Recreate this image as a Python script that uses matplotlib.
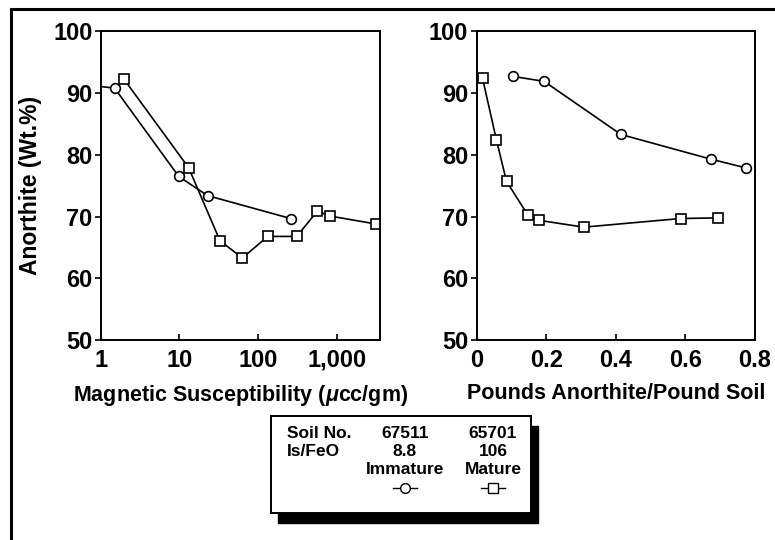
import numpy as np
import matplotlib.pyplot as plt
from matplotlib.patches import Rectangle
from matplotlib.lines import Line2D
from matplotlib.ticker import FuncFormatter

plt.rcParams['font.family'] = 'Liberation Sans'
plt.rcParams['font.weight'] = 'bold'
plt.rcParams['mathtext.fontset'] = 'custom'
plt.rcParams['mathtext.it'] = 'Liberation Sans:bold:italic'
fsize = 15.5

# immature soil 67511, circles
sus_imm = [0.7, 1.5, 9.8, 22.8, 258]
an_sus_imm = [91.3, 90.8, 76.5, 73.4, 69.7]
pds_imm = [0.105, 0.194, 0.415, 0.674, 0.774]
an_pds_imm = [92.7, 91.9, 83.3, 79.3, 77.9]

# mature soil 65701, squares
sus_mat = [1.96, 13.1, 32.7, 63, 132, 309, 564, 814, 3170]
an_sus_mat = [92.3, 77.9, 66.1, 63.3, 66.8, 66.8, 70.9, 70.1, 68.8]
pds_mat = [0.017, 0.057, 0.086, 0.148, 0.180, 0.308, 0.587, 0.693]
an_pds_mat = [92.4, 82.4, 75.7, 70.2, 69.4, 68.3, 69.7, 69.8]

legend_rows = [['Soil No.', '67511', '65701'],
               ['Is/FeO', '8.8', '106'],
               ['', 'Immature', 'Mature']]

fig = plt.figure(figsize=(7.75, 5.4), dpi=100)

ax1 = fig.add_axes([0.130, 0.370, 0.360, 0.572])
ax2 = fig.add_axes([0.615, 0.370, 0.359, 0.572])

mk = dict(color='k', linewidth=1.2, markersize=7, markerfacecolor='white',
          markeredgecolor='k', markeredgewidth=1.2)

ax1.plot(sus_imm, an_sus_imm, 'o-', **mk)
ax1.plot(sus_mat, an_sus_mat, 's-', **mk)
ax1.set_xscale('log')
ax1.set_xlim(1, 3500)
ax1.set_xticks([1, 10, 100, 1000])
ax1.xaxis.set_major_formatter(FuncFormatter(lambda v, p: f'{v:,.0f}'))
ax1.minorticks_off()
ax1.set_xlabel('Magnetic Susceptibility ($\\mathit{\\mu}$cc/gm)', fontsize=fsize, fontweight='bold', labelpad=8)
ax1.set_ylabel('Anorthite (Wt.%)', fontsize=16.5, fontweight='bold', labelpad=8)

ax2.plot(pds_imm, an_pds_imm, 'o-', **mk)
ax2.plot(pds_mat, an_pds_mat, 's-', **mk)
ax2.set_xlim(0, 0.8)
ax2.set_xticks([0, 0.2, 0.4, 0.6, 0.8])
ax2.set_xticklabels(['0', '0.2', '0.4', '0.6', '0.8'])
ax2.set_xlabel('Pounds Anorthite/Pound Soil', fontsize=fsize, fontweight='bold', labelpad=8)

for ax in (ax1, ax2):
    ax.set_ylim(50, 100)
    ax.set_yticks([50, 60, 70, 80, 90, 100])
    ax.tick_params(axis='both', labelsize=17, width=1.2, length=4)
    ax.tick_params(axis='x', direction='in', pad=6)
    ax.tick_params(axis='y', direction='out', pad=2)
    for s in ax.spines.values():
        s.set_linewidth(1.4)
    for lab in ax.get_xticklabels() + ax.get_yticklabels():
        lab.set_fontweight('bold')

# outer frame
fig.patches.append(Rectangle((11 / 775, -0.05), 0.99, 1.05 - 9 / 540, transform=fig.transFigure,
                             fill=False, edgecolor='k', linewidth=2.2, clip_on=False))

# legend box with shadow
bx, by, bw, bh = 271 / 775, 1 - 513 / 540, 260 / 775, 97 / 540
fig.patches.append(Rectangle((bx + 7 / 775, by - 10 / 540), bw, bh, transform=fig.transFigure,
                             facecolor='k', edgecolor='k', zorder=1))
fig.patches.append(Rectangle((bx, by), bw, bh, transform=fig.transFigure,
                             facecolor='white', edgecolor='k', linewidth=1.4, zorder=2))

col_x = [287 / 775, 405 / 775, 493 / 775]
row_y = [1 - 433 / 540, 1 - 451 / 540, 1 - 469 / 540]
for r, row in enumerate(legend_rows):
    for c, txt in enumerate(row):
        fig.text(col_x[c], row_y[r], txt, fontsize=12.5, fontweight='bold',
                 ha='left' if c == 0 else 'center', va='center', zorder=3)

ly = 1 - 488 / 540
for cx, m in zip(col_x[1:], ['o', 's']):
    fig.lines.append(Line2D([cx - 12 / 775, cx + 12 / 775], [ly, ly], transform=fig.transFigure,
                            marker=None, color='k', linewidth=1.0, zorder=3))
    fig.lines.append(Line2D([cx], [ly], transform=fig.transFigure, marker=m, markersize=7,
                            markerfacecolor='white', markeredgecolor='k', markeredgewidth=1.0,
                            color='k', zorder=4))

fig.savefig('out.png', dpi=100)
